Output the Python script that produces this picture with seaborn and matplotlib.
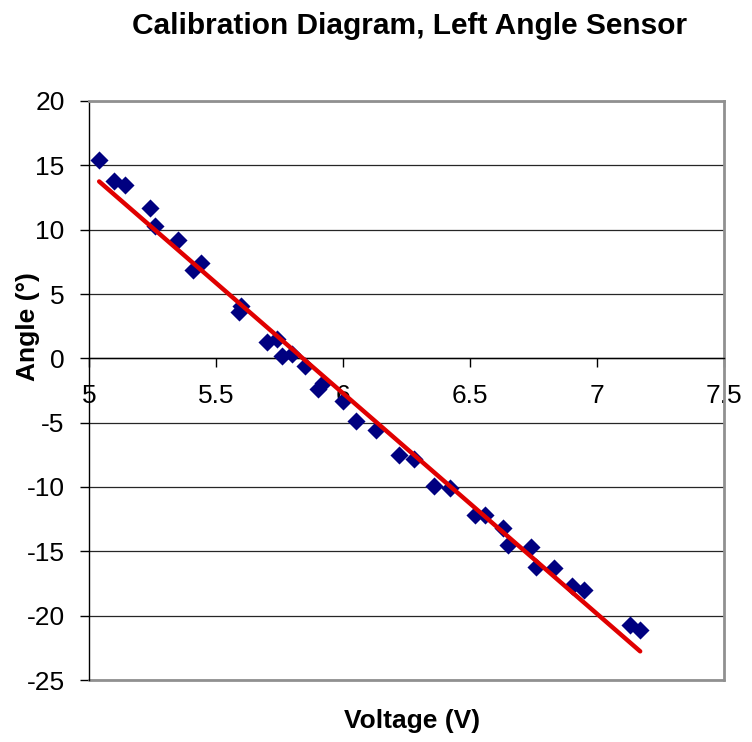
"""Calibration diagram for the left angle sensor: voltage vs angle with linear fit."""
import matplotlib
matplotlib.use("Agg")
import matplotlib.pyplot as plt
import numpy as np
import pandas as pd
import seaborn as sns

# ============================================================
# Data
# ============================================================
voltage = [5.04, 5.10, 5.14, 5.24, 5.26, 5.35, 5.41, 5.44, 5.59, 5.60,
           5.70, 5.74, 5.76, 5.80, 5.85, 5.90, 5.92, 6.00, 6.05, 6.13,
           6.22, 6.28, 6.36, 6.42, 6.52, 6.56, 6.63, 6.65, 6.74, 6.76,
           6.83, 6.90, 6.95, 7.13, 7.17]
angle = [15.4, 13.75, 13.5, 11.7, 10.3, 9.2, 6.9, 7.4, 3.6, 4.1,
         1.3, 1.5, 0.2, 0.3, -0.6, -2.4, -1.9, -3.3, -4.9, -5.6,
         -7.5, -7.8, -9.9, -10.1, -12.2, -12.2, -13.2, -14.5, -14.7, -16.2,
         -16.3, -17.7, -18.0, -20.7, -21.1]

x_ticks = [5, 5.5, 6, 6.5, 7, 7.5]
x_tick_labels = ["5", "5.5", "6", "6.5", "7", "7.5"]
y_ticks = [-25, -20, -15, -10, -5, 0, 5, 10, 15, 20]

df = pd.DataFrame({"Voltage (V)": voltage, "Angle (°)": angle})

# ============================================================
# Style
# ============================================================
sns.set_style("white")
plt.rcParams["font.family"] = ["Liberation Sans", "DejaVu Sans"]
plt.rcParams["axes.unicode_minus"] = False
plt.rcParams["text.color"] = "black"
plt.rcParams["xtick.color"] = "black"
plt.rcParams["ytick.color"] = "black"

NAVY = "#000080"
RED = "#E00000"

fig = plt.figure(figsize=(7.52, 7.42), dpi=100)
ax = fig.add_axes([89 / 752, 1 - 680 / 742, (724 - 89) / 752, (680 - 101) / 742])

sns.regplot(data=df, x="Voltage (V)", y="Angle (°)", ax=ax, ci=None,
            scatter=False, line_kws={"color": RED, "lw": 3.2,
                                     "solid_capstyle": "round", "zorder": 4})
sns.scatterplot(data=df, x="Voltage (V)", y="Angle (°)", ax=ax, marker="D",
                color=NAVY, edgecolor=NAVY, s=85, linewidth=0, zorder=3)

ax.set_xlim(5, 7.5)
ax.set_ylim(-25, 20)
ax.set_xticks(x_ticks)
ax.set_xticklabels(x_tick_labels)
ax.set_yticks(y_ticks)
ax.set_xlabel("")
ax.set_ylabel("")

# horizontal grid
ax.yaxis.grid(True, color="#262626", lw=0.9)
ax.xaxis.grid(False)
ax.set_axisbelow(True)

# frame: left axis black, x axis crossing at 0, gray plot-area border
ax.spines["left"].set_color("black")
ax.spines["left"].set_linewidth(1.0)
ax.spines["bottom"].set_position(("data", 0))
ax.spines["bottom"].set_color("black")
ax.spines["bottom"].set_linewidth(1.0)
for side in ["top", "right"]:
    ax.spines[side].set_visible(True)
    ax.spines[side].set_color("#909090")
    ax.spines[side].set_linewidth(2.0)
ax.plot([0, 1], [0, 0], transform=ax.transAxes, color="#909090", lw=2.0,
        clip_on=False, zorder=1)

ax.tick_params(axis="both", which="major", direction="out", length=6.5,
               width=1.0, color="black", labelsize=19, bottom=True, left=True)
ax.tick_params(axis="y", pad=11)
ax.tick_params(axis="x", pad=12)

# ============================================================
# Texts
# ============================================================
fig.text(410 / 752, 1 - 26 / 742, "Calibration Diagram, Left Angle Sensor",
         ha="center", va="center", fontsize=21.5, fontweight="bold")
fig.text(412 / 752, 1 - 721 / 742, "Voltage (V)", ha="center", va="center",
         fontsize=19, fontweight="bold")
fig.text(28 / 752, 1 - 327 / 742, "Angle (°)", ha="center", va="center",
         rotation=90, fontsize=19, fontweight="bold")

fig.savefig("out.png", dpi=100, facecolor="white")
plt.close(fig)
